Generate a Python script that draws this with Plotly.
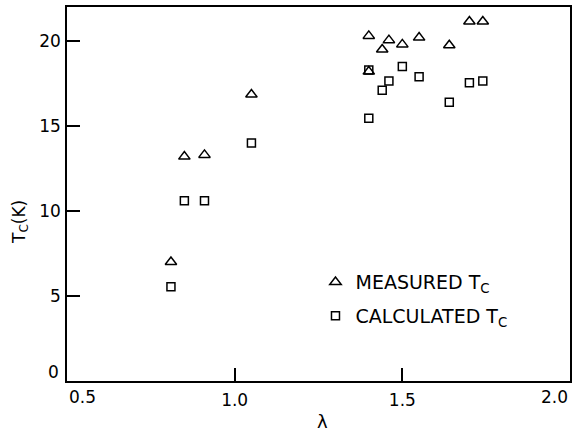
import plotly.graph_objects as go

lam = [0.81, 0.85, 0.91, 1.05, 1.40, 1.40, 1.44, 1.46, 1.50, 1.55, 1.64, 1.70, 1.74]
tc_measured = [7.0, 13.2, 13.3, 16.85, 20.3, 18.2, 19.5, 20.05, 19.8, 20.2, 19.75, 21.15, 21.15]
tc_calculated = [5.55, 10.6, 10.6, 14.0, 18.3, 15.45, 17.1, 17.65, 18.5, 17.9, 16.4, 17.55, 17.65]

x_ticks = [0.5, 1.0, 1.5, 2.0]
x_ticklabels = ["0.5", "1.0", "1.5", "2.0"]
y_ticks = [0, 5, 10, 15, 20]
y_ticklabels = ["0", "5", "10", "15", "20"]

FONT = "DejaVu Sans"
TICKFONT = dict(family=FONT, size=17, color="black")

fig = go.Figure()
fig.add_trace(go.Scatter(
    x=lam, y=tc_measured, mode="markers", name="MEASURED T<sub>C</sub>",
    legendgroup="m",
    marker=dict(symbol="triangle-up-open", size=10, color="black", line=dict(width=1.5, color="black")),
))
fig.add_trace(go.Scatter(
    x=lam, y=tc_calculated, mode="markers", name="CALCULATED T<sub>C</sub>",
    legendgroup="c",
    marker=dict(symbol="square-open", size=8, color="black", line=dict(width=1.5, color="black")),
))

axis_common = dict(
    showline=True, linecolor="black", linewidth=1.5, mirror=True,
    ticks="inside", ticklen=13, tickwidth=1.5, tickcolor="black",
    showgrid=False, zeroline=False, automargin=False,
    tickfont=TICKFONT,
)

# interior tick labels drawn by the axes; the end labels are nudged inward as in the original
x_text = [""] + x_ticklabels[1:-1] + [""]
y_text = [""] + y_ticklabels[1:]

fig.update_xaxes(range=[0.5, 2.0], tickvals=x_ticks, ticktext=x_text,
                 ticklabelstandoff=3, **axis_common)
fig.update_yaxes(range=[0, 22], tickvals=y_ticks, ticktext=y_text,
                 ticklabelstandoff=1, **axis_common)

fig.add_annotation(text=x_ticklabels[0], xref="x", yref="paper", x=x_ticks[0], y=-0.043,
                   xanchor="left", yanchor="middle", showarrow=False, font=TICKFONT)
fig.add_annotation(text=x_ticklabels[-1], xref="x", yref="paper", x=x_ticks[-1], y=-0.043,
                   xanchor="right", yanchor="middle", showarrow=False, font=TICKFONT)
fig.add_annotation(text=y_ticklabels[0], xref="paper", yref="y", x=-0.012, y=y_ticks[0],
                   xanchor="right", yanchor="bottom", yshift=-3, showarrow=False, font=TICKFONT)

fig.add_annotation(text="T<sub>C</sub>(K)", xref="paper", yref="paper",
                   x=-0.093, y=0.426, textangle=-90, showarrow=False,
                   xanchor="center", yanchor="middle",
                   font=dict(family=FONT, size=17, color="black"))
fig.add_annotation(text="λ", xref="paper", yref="paper",
                   x=0.507, y=-0.108, showarrow=False, xanchor="center", yanchor="middle",
                   font=dict(family=FONT, size=18, color="black"))

fig.update_layout(
    width=574, height=431,
    margin=dict(l=67, r=4, t=7, b=50),
    paper_bgcolor="white", plot_bgcolor="white",
    font=dict(family=FONT, size=17, color="black"),
    legend=dict(x=0.494, y=0.315, xanchor="left", yanchor="top",
                bgcolor="rgba(0,0,0,0)", tracegroupgap=6,
                font=dict(family=FONT, size=19, color="black")),
)

fig.write_html("out.html",
               config={"displayModeBar": False},
               post_script="document.body.style.margin='0px';document.body.style.overflow='hidden';")
